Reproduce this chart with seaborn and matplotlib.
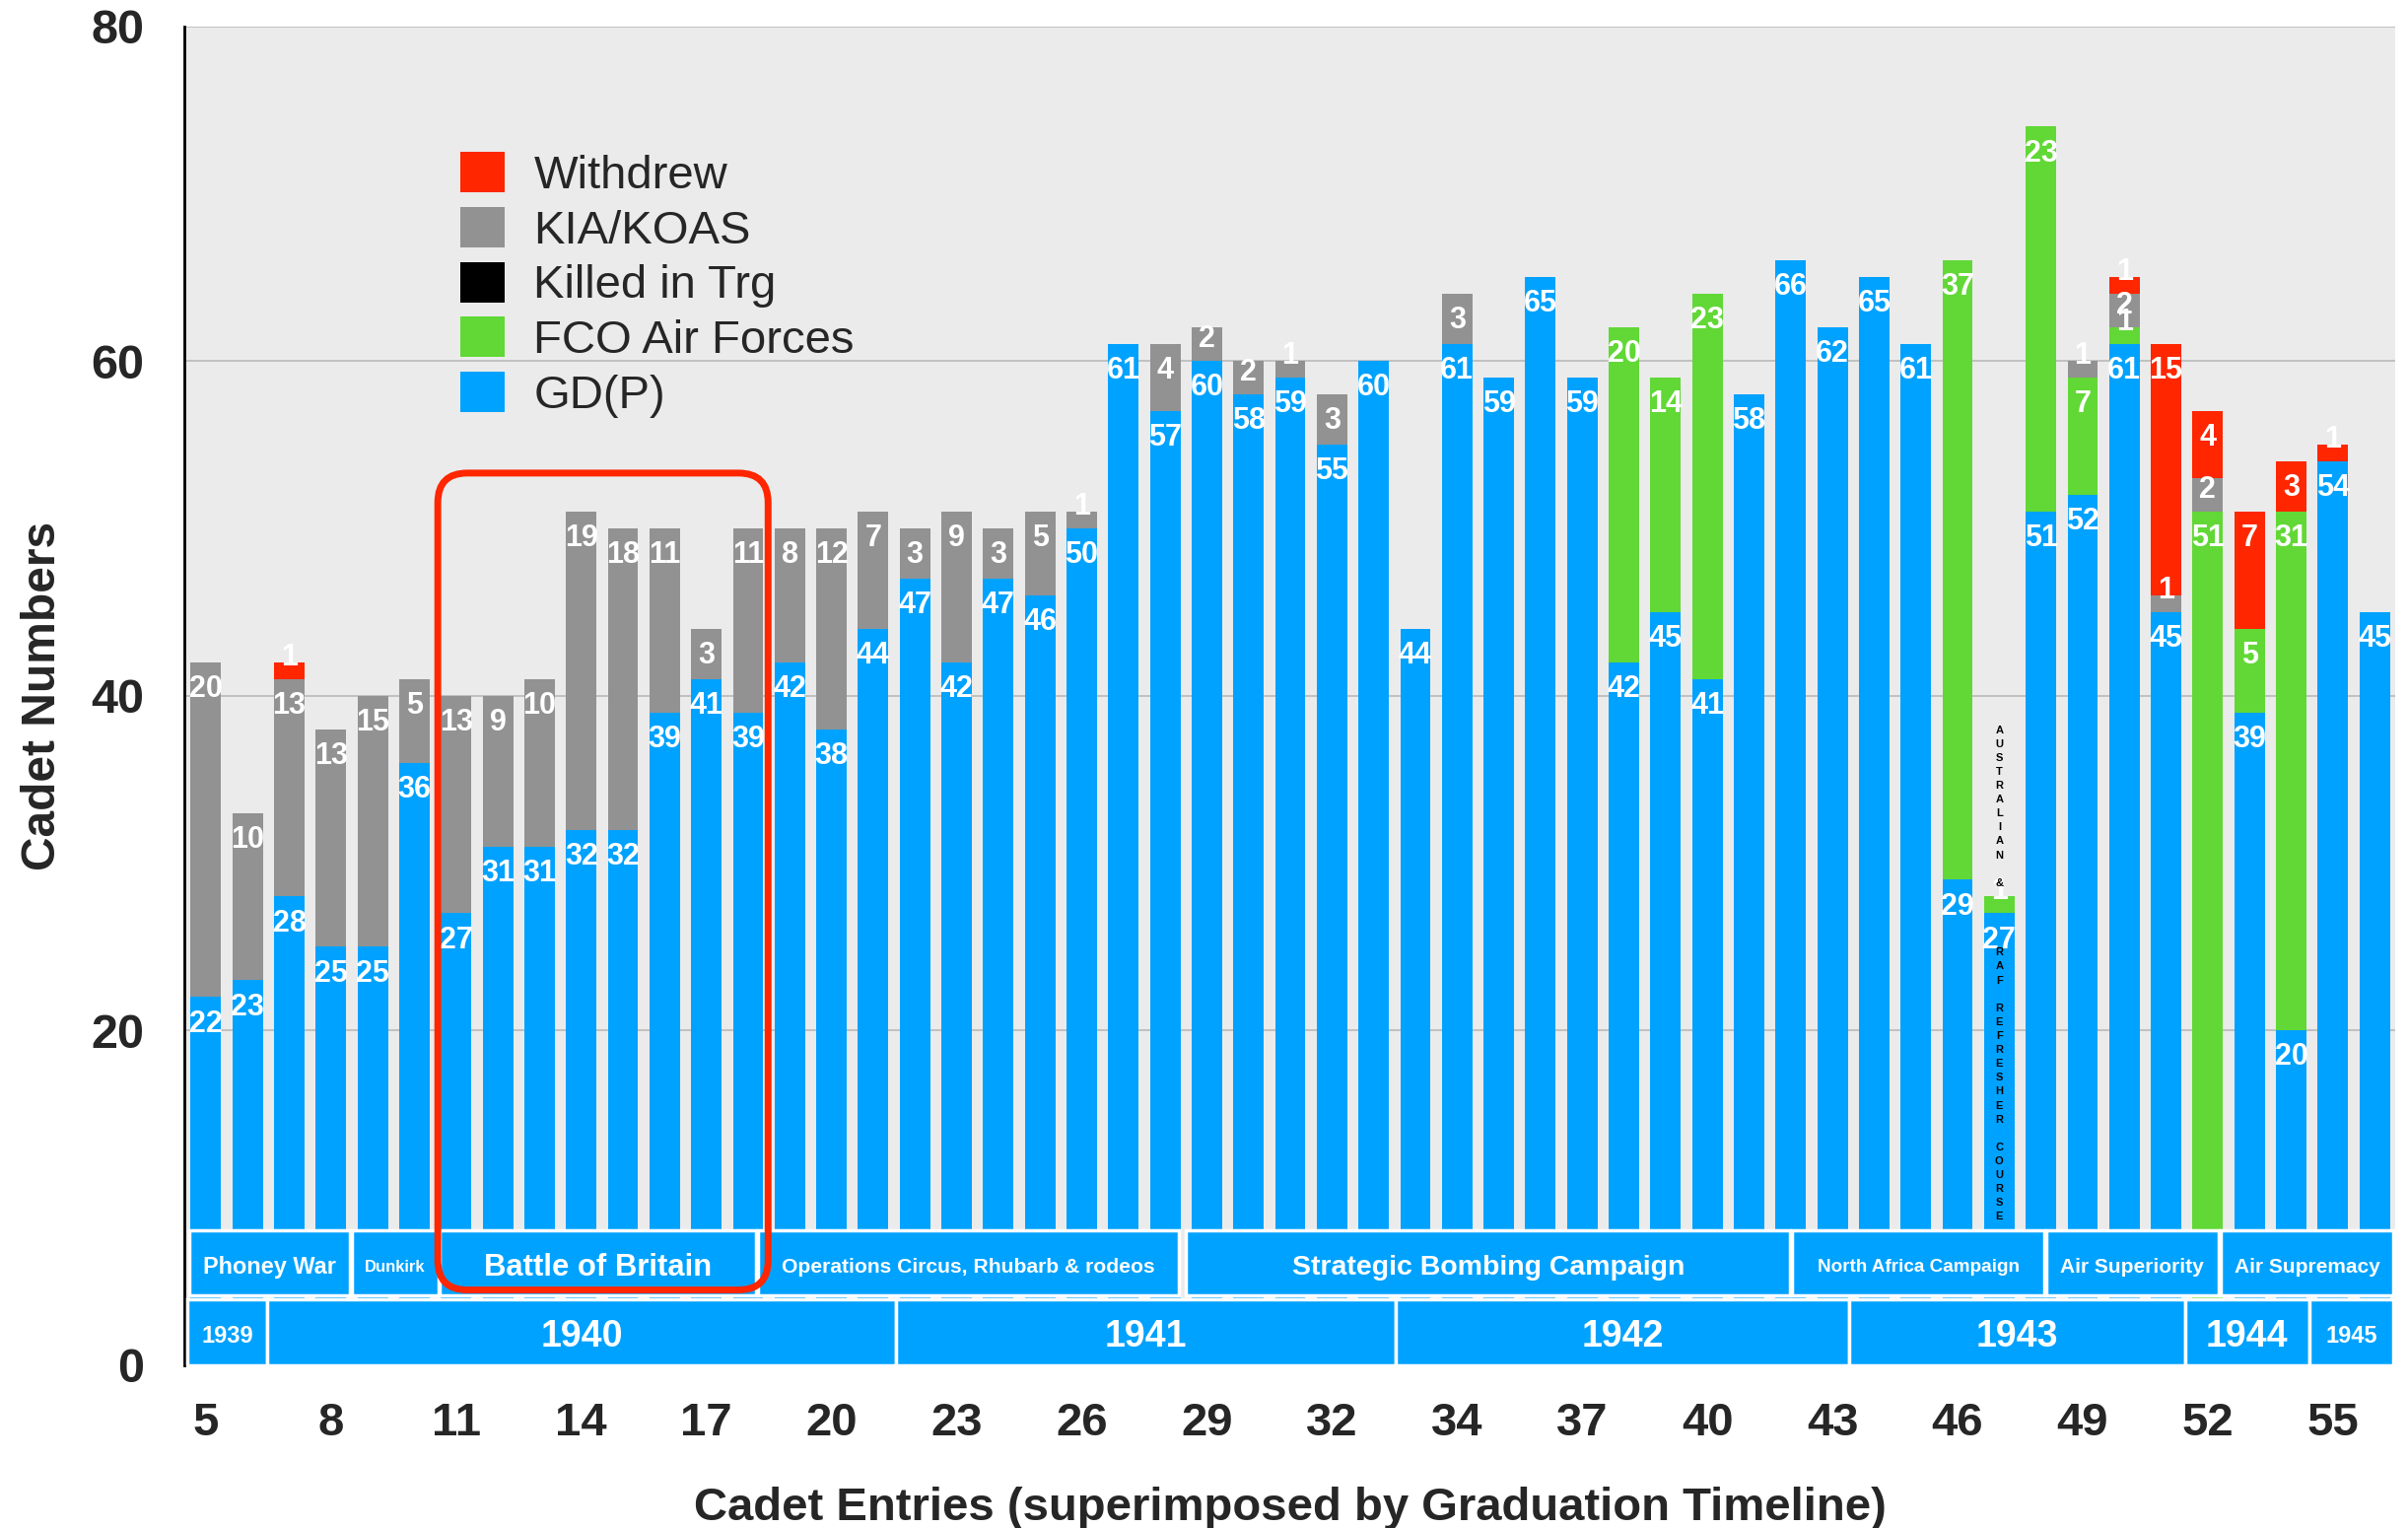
import numpy as np
import matplotlib
matplotlib.use("Agg")
import matplotlib.pyplot as plt
from matplotlib.patches import Rectangle, FancyBboxPatch, Patch
import seaborn as sns

# ---- data -------------------------------------------------------------
entries = [str(n) for n in range(5, 33)] + ["33", "33A"] + [str(n) for n in range(34, 57)]

gdp = [22, 23, 28, 25, 25, 36, 27, 31, 31, 32, 32, 39, 41, 39, 42, 38, 44, 47, 42, 47,
       46, 50, 61, 57, 60, 58, 59, 55, 60, 44, 61, 59, 65, 59, 42, 45, 41, 58, 66, 62,
       65, 61, 29, 27, 51, 52, 61, 45, 0, 39, 20, 54, 45]
fco = [0] * 34 + [20, 14, 23, 0, 0, 0, 0, 0, 37, 1, 23, 7, 1, 0, 51, 5, 31, 0, 0]
killed_trg = [0] * 53
kia = [20, 10, 13, 13, 15, 5, 13, 9, 10, 19, 18, 11, 3, 11, 8, 12, 7, 3, 9, 3,
       5, 1, 0, 4, 2, 2, 1, 3, 0, 0, 3, 0, 0, 0, 0, 0, 0, 0, 0, 0,
       0, 0, 0, 0, 0, 1, 2, 1, 2, 0, 0, 0, 0]
withdrew = [0, 0, 1] + [0] * 43 + [1, 15, 4, 7, 3, 1, 0]

series_names = ["GD(P)", "FCO Air Forces", "Killed in Trg", "KIA/KOAS", "Withdrew"]

years = ["1939", "1940", "1941", "1942", "1943", "1944", "1945"]
campaigns = ["Phoney War", "Dunkirk", "Battle of Britain",
             "Operations Circus, Rhubarb & rodeos", "Strategic Bombing Campaign",
             "North Africa Campaign", "Air Superiority", "Air Supremacy"]
course_note = ["A", "U", "S", "T", "R", "A", "L", "I", "A", "N", "", "&", "", "", "", "",
               "R", "A", "F", "", "R", "E", "F", "R", "E", "S", "H", "E", "R", "",
               "C", "O", "U", "R", "S", "E"]

# ---- style ------------------------------------------------------------
BLUE, GREEN, BLACK, GRAY, RED = "#00A2FF", "#61D836", "#000000", "#929292", "#FF2600"
series_colors = [BLUE, GREEN, BLACK, GRAY, RED]

sns.set_theme(style="white")
plt.rcParams["font.family"] = ["Liberation Sans", "DejaVu Sans"]

fig = plt.figure(figsize=(24.43, 15.5), dpi=100)
ax = fig.add_axes([0.0765, 0.1065, 0.9183, 0.8764])
ax.set_facecolor("#EBEBEB")

# ---- stacked bars -----------------------------------------------------
vals = np.array([gdp, fco, killed_trg, kia, withdrew], dtype=float)
tops = vals.cumsum(axis=0)
bottoms = tops - vals

for k, color in enumerate(series_colors):
    sns.barplot(x=entries, y=vals[k], order=entries, bottom=bottoms[k],
                color=color, saturation=1, width=0.73, errorbar=None,
                linewidth=0, ax=ax, zorder=2)

# value labels near the top of each segment
for k in range(vals.shape[0]):
    for i in range(vals.shape[1]):
        v = vals[k, i]
        if v > 0:
            y = max(tops[k, i] - 1.6, bottoms[k, i] + 1.3)
            ax.text(i, y, f"{int(v)}", ha="center", va="center", color="white",
                    fontsize=22, fontweight="bold", zorder=5)

# ---- axes -------------------------------------------------------------
ax.set_xlim(-0.52, 52.5)
ax.set_ylim(0, 80)
tick_idx = list(range(0, len(entries), 3))
ax.set_xticks(tick_idx)
ax.set_xticklabels([entries[i] for i in tick_idx])
ax.set_yticks([0, 20, 40, 60, 80])
ax.tick_params(axis="x", length=0, labelsize=34, pad=27)
ax.tick_params(axis="y", length=0, labelsize=35, pad=29)
for lab in ax.get_xticklabels() + ax.get_yticklabels():
    lab.set_fontweight("bold")

ax.yaxis.grid(True, color="#BDBDBD", lw=1.3)
ax.xaxis.grid(False)
ax.set_axisbelow(True)
for s in ["top", "right", "bottom"]:
    ax.spines[s].set_visible(False)
ax.spines["left"].set_color("black")
ax.spines["left"].set_linewidth(2)

ax.set_ylabel("Cadet Numbers", fontsize=34.5, fontweight="bold")
ax.yaxis.set_label_coords(-0.054, 0.5)
ax.set_xlabel("Cadet Entries (superimposed by Graduation Timeline)",
              fontsize=34, fontweight="bold")
ax.xaxis.set_label_coords(0.5, -0.0905)

# ---- graduation timeline bands ---------------------------------------
def band(x0, x1, y0, y1, label, size):
    ax.add_patch(Rectangle((x0, y0), x1 - x0, y1 - y0, facecolor=BLUE,
                           edgecolor="white", lw=2.5, zorder=4))
    ax.text((x0 + x1) / 2, (y0 + y1) / 2 - 0.25, label, ha="center", va="center",
            color="white", fontsize=size, fontweight="bold", zorder=5)

year_edges = [-0.45, 1.47, 16.54, 28.52, 39.40, 47.45, 50.44, 52.45]
year_sizes = [17, 27, 27, 27, 27, 27, 17]
for j, name in enumerate(years):
    band(year_edges[j], year_edges[j + 1], 0.0, 3.95, name, year_sizes[j])

camp_spans = [(-0.40, 3.46), (3.50, 5.57), (5.60, 13.20), (13.24, 23.32),
              (23.50, 37.99), (38.03, 44.08), (44.12, 48.26), (48.32, 52.45)]
camp_sizes = [16.9, 12, 22.3, 15.2, 20.5, 13.6, 15, 15]
for (x0, x1), name, size in zip(camp_spans, campaigns, camp_sizes):
    band(x0, x1, 4.15, 8.05, name, size)

# highlight of the Battle of Britain entries
ax.add_patch(FancyBboxPatch((5.56, 4.5), 13.48 - 5.56, 53.3 - 4.5,
                            boxstyle="round,pad=0,rounding_size=0.71",
                            mutation_aspect=2.49, facecolor="none",
                            edgecolor=RED, lw=5, zorder=6))

# stacked vertical note on the refresher course entry
for k, ch in enumerate(course_note):
    if ch:
        ax.text(43, 37.95 - k * 0.831, ch, ha="center", va="center",
                fontsize=8, fontweight="bold", color="black", zorder=6)

# ---- legend -----------------------------------------------------------
handles = [Patch(facecolor=c, edgecolor="none", label=n)
           for n, c in zip(series_names[::-1], series_colors[::-1])]
leg = ax.legend(handles=handles, loc="upper left", bbox_to_anchor=(0.1248, 0.906),
                frameon=False, fontsize=34, handlelength=0.96, handleheight=0.96,
                handletextpad=0.62, labelspacing=0.19, borderpad=0, borderaxespad=0)
leg.set_zorder(7)

fig.savefig("out.png", dpi=100)
